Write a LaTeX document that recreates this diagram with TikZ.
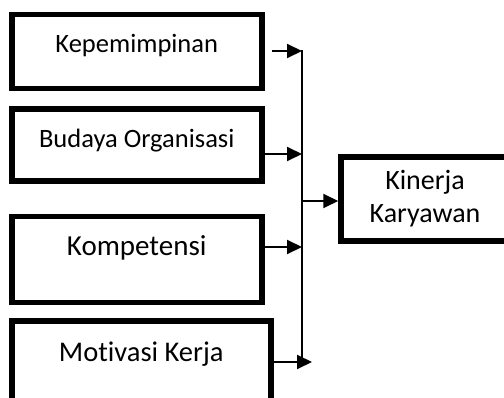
\documentclass[tikz,border=0pt]{standalone}
\usepackage{fontspec}
\setmainfont[Ligatures=NoCommon]{Carlito}
\usetikzlibrary{arrows.meta, positioning}

\begin{document}
\begin{tikzpicture}[x=1pt, y=-1pt, line width=2pt,
    box/.style={rectangle, draw, line width=5.5pt, inner sep=0pt, minimum width=250pt, align=center},
    arr/.style={-{Triangle[length=15pt, width=14pt]}}]
    \clip (0,0) rectangle (504,398);
    \node (Kepemimpinan) [box, anchor=north west, text height=38pt, text depth=36pt, font=\fontsize{26.5}{31}\selectfont] at (9,12) {Kepemimpinan};
    \node (Budaya) [box, below=15pt of Kepemimpinan, text height=38pt, text depth=34pt, font=\fontsize{26.5}{31}\selectfont] {Budaya Organisasi};
    \node (Kompetensi) [box, below=30pt of Budaya, text height=39pt, text depth=47pt, font=\fontsize{29}{34}\selectfont] {Kompetensi};
    \node (Motivasi) [box, below=13pt of Kompetensi.south west, anchor=north west, minimum width=259pt, text height=40pt, text depth=60pt, font=\fontsize{28.5}{33}\selectfont] {Motivasi Kerja};
    \node (Kinerja) [box, minimum width=168pt, minimum height=84pt, font=\fontsize{28}{33}\selectfont] at (425,199) {Kinerja\\Karyawan};

    % bus line and where the arrows meet it
    \coordinate (Top) at (302,50);
    \coordinate (Bottom) at (302,360);
    \coordinate (In1) at (302,51);
    \coordinate (In2) at (302,154);
    \coordinate (In3) at (302,247);
    \coordinate (In4) at (312,362);
    \coordinate (Out) at (302,201);

    \draw (Top) -- (Bottom);
    \draw[arr, shorten <=7pt] (Kepemimpinan.east |- In1) -- (In1);
    \draw[arr] (Budaya.east |- In2) -- (In2);
    \draw[arr] (Kompetensi.east |- In3) -- (In3);
    \draw[arr] (Motivasi.east |- In4) -- (In4);
    \draw[arr] (Out) -- (Kinerja.west |- Out);
\end{tikzpicture}
\end{document}
